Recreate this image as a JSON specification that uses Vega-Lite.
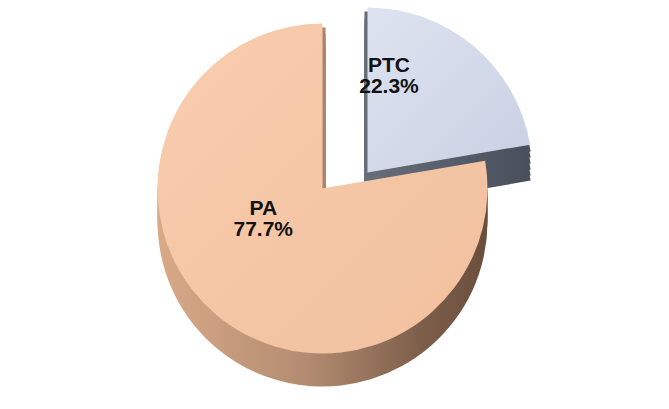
{
  "$schema": "https://vega.github.io/schema/vega-lite/v6.json",
  "width": 669,
  "height": 409,
  "autosize": {"type": "fit", "contains": "padding"},
  "background": "white",
  "view": {"stroke": null},
  "data": {"values": [
    {"cat": "PA", "value": 77.7, "label": "PA\n77.7%"},
    {"cat": "PTC", "value": 22.3, "label": "PTC\n22.3%"}
  ]},
  "transform": [
    {"stack": "value", "groupby": [], "sort": [{"field": "cat", "order": "descending"}], "as": ["v0", "v1"]}
  ],
  "encoding": {
    "theta": {"field": "v0", "type": "quantitative", "scale": {"domain": [0, 100]}},
    "theta2": {"field": "v1"}
  },
  "layer": [
    {"transform": [{"filter": "datum.cat === 'PTC'"}], "mark": {"type": "arc", "radius": 162, "xOffset": 33, "yOffset": 1, "strokeWidth": 6,
      "fill": {"gradient": "linear", "x1": 0, "y1": 0, "x2": 1, "y2": 0, "stops": [{"offset": 0, "color": "#666D79"}, {"offset": 1, "color": "#4A505B"}]},
      "stroke": {"gradient": "linear", "x1": 0, "y1": 0, "x2": 1, "y2": 0, "stops": [{"offset": 0, "color": "#666D79"}, {"offset": 1, "color": "#4A505B"}]}}},
    {"transform": [{"filter": "datum.cat === 'PTC'"}], "mark": {"type": "arc", "radius": 162, "xOffset": 33, "yOffset": -4, "strokeWidth": 6,
      "fill": {"gradient": "linear", "x1": 0, "y1": 0, "x2": 1, "y2": 0, "stops": [{"offset": 0, "color": "#666D79"}, {"offset": 1, "color": "#4A505B"}]},
      "stroke": {"gradient": "linear", "x1": 0, "y1": 0, "x2": 1, "y2": 0, "stops": [{"offset": 0, "color": "#666D79"}, {"offset": 1, "color": "#4A505B"}]}}},
    {"transform": [{"filter": "datum.cat === 'PTC'"}], "mark": {"type": "arc", "radius": 162, "xOffset": 33, "yOffset": -10, "strokeWidth": 6,
      "fill": {"gradient": "linear", "x1": 0, "y1": 0, "x2": 1, "y2": 0, "stops": [{"offset": 0, "color": "#666D79"}, {"offset": 1, "color": "#4A505B"}]},
      "stroke": {"gradient": "linear", "x1": 0, "y1": 0, "x2": 1, "y2": 0, "stops": [{"offset": 0, "color": "#666D79"}, {"offset": 1, "color": "#4A505B"}]}}},
    {"transform": [{"filter": "datum.cat === 'PTC'"}], "mark": {"type": "arc", "radius": 162, "xOffset": 33, "yOffset": -16, "strokeWidth": 6,
      "fill": {"gradient": "linear", "x1": 0, "y1": 0, "x2": 1, "y2": 0, "stops": [{"offset": 0, "color": "#666D79"}, {"offset": 1, "color": "#4A505B"}]},
      "stroke": {"gradient": "linear", "x1": 0, "y1": 0, "x2": 1, "y2": 0, "stops": [{"offset": 0, "color": "#666D79"}, {"offset": 1, "color": "#4A505B"}]}}},
    {"transform": [{"filter": "datum.cat === 'PTC'"}], "mark": {"type": "arc", "radius": 162, "xOffset": 33, "yOffset": -22, "strokeWidth": 6,
      "fill": {"gradient": "linear", "x1": 0, "y1": 0, "x2": 1, "y2": 0, "stops": [{"offset": 0, "color": "#666D79"}, {"offset": 1, "color": "#4A505B"}]},
      "stroke": {"gradient": "linear", "x1": 0, "y1": 0, "x2": 1, "y2": 0, "stops": [{"offset": 0, "color": "#666D79"}, {"offset": 1, "color": "#4A505B"}]}}},
    {"transform": [{"filter": "datum.cat === 'PTC'"}], "mark": {"type": "arc", "radius": 162, "xOffset": 33, "yOffset": -28, "strokeWidth": 6,
      "fill": {"gradient": "linear", "x1": 0, "y1": 0, "x2": 1, "y2": 0, "stops": [{"offset": 0, "color": "#666D79"}, {"offset": 1, "color": "#4A505B"}]},
      "stroke": {"gradient": "linear", "x1": 0, "y1": 0, "x2": 1, "y2": 0, "stops": [{"offset": 0, "color": "#666D79"}, {"offset": 1, "color": "#4A505B"}]}}},
    {"transform": [{"filter": "datum.cat === 'PTC'"}], "mark": {"type": "arc", "radius": 165, "xOffset": 33, "yOffset": -32,
      "fill": {"gradient": "linear", "x1": 0, "y1": 0, "x2": 1, "y2": 1, "stops": [{"offset": 0, "color": "#DDE3F0"}, {"offset": 1, "color": "#C9D0E2"}]}}},
    {"transform": [{"filter": "datum.cat === 'PA'"}], "mark": {"type": "arc", "radius": 162, "xOffset": -12, "yOffset": 17, "strokeWidth": 6,
      "fill": {"gradient": "linear", "x1": 0, "y1": 0, "x2": 1, "y2": 0, "stops": [{"offset": 0, "color": "#D8A987"}, {"offset": 0.45, "color": "#B38C71"}, {"offset": 0.8, "color": "#7E5F4B"}, {"offset": 1, "color": "#6B4F3D"}]},
      "stroke": {"gradient": "linear", "x1": 0, "y1": 0, "x2": 1, "y2": 0, "stops": [{"offset": 0, "color": "#D8A987"}, {"offset": 0.45, "color": "#B38C71"}, {"offset": 0.8, "color": "#7E5F4B"}, {"offset": 1, "color": "#6B4F3D"}]}}},
    {"transform": [{"filter": "datum.cat === 'PA'"}], "mark": {"type": "arc", "radius": 162, "xOffset": -12, "yOffset": 12, "strokeWidth": 6,
      "fill": {"gradient": "linear", "x1": 0, "y1": 0, "x2": 1, "y2": 0, "stops": [{"offset": 0, "color": "#D8A987"}, {"offset": 0.45, "color": "#B38C71"}, {"offset": 0.8, "color": "#7E5F4B"}, {"offset": 1, "color": "#6B4F3D"}]},
      "stroke": {"gradient": "linear", "x1": 0, "y1": 0, "x2": 1, "y2": 0, "stops": [{"offset": 0, "color": "#D8A987"}, {"offset": 0.45, "color": "#B38C71"}, {"offset": 0.8, "color": "#7E5F4B"}, {"offset": 1, "color": "#6B4F3D"}]}}},
    {"transform": [{"filter": "datum.cat === 'PA'"}], "mark": {"type": "arc", "radius": 162, "xOffset": -12, "yOffset": 6, "strokeWidth": 6,
      "fill": {"gradient": "linear", "x1": 0, "y1": 0, "x2": 1, "y2": 0, "stops": [{"offset": 0, "color": "#D8A987"}, {"offset": 0.45, "color": "#B38C71"}, {"offset": 0.8, "color": "#7E5F4B"}, {"offset": 1, "color": "#6B4F3D"}]},
      "stroke": {"gradient": "linear", "x1": 0, "y1": 0, "x2": 1, "y2": 0, "stops": [{"offset": 0, "color": "#D8A987"}, {"offset": 0.45, "color": "#B38C71"}, {"offset": 0.8, "color": "#7E5F4B"}, {"offset": 1, "color": "#6B4F3D"}]}}},
    {"transform": [{"filter": "datum.cat === 'PA'"}], "mark": {"type": "arc", "radius": 162, "xOffset": -12, "yOffset": 0, "strokeWidth": 6,
      "fill": {"gradient": "linear", "x1": 0, "y1": 0, "x2": 1, "y2": 0, "stops": [{"offset": 0, "color": "#D8A987"}, {"offset": 0.45, "color": "#B38C71"}, {"offset": 0.8, "color": "#7E5F4B"}, {"offset": 1, "color": "#6B4F3D"}]},
      "stroke": {"gradient": "linear", "x1": 0, "y1": 0, "x2": 1, "y2": 0, "stops": [{"offset": 0, "color": "#D8A987"}, {"offset": 0.45, "color": "#B38C71"}, {"offset": 0.8, "color": "#7E5F4B"}, {"offset": 1, "color": "#6B4F3D"}]}}},
    {"transform": [{"filter": "datum.cat === 'PA'"}], "mark": {"type": "arc", "radius": 162, "xOffset": -12, "yOffset": -6, "strokeWidth": 6,
      "fill": {"gradient": "linear", "x1": 0, "y1": 0, "x2": 1, "y2": 0, "stops": [{"offset": 0, "color": "#D8A987"}, {"offset": 0.45, "color": "#B38C71"}, {"offset": 0.8, "color": "#7E5F4B"}, {"offset": 1, "color": "#6B4F3D"}]},
      "stroke": {"gradient": "linear", "x1": 0, "y1": 0, "x2": 1, "y2": 0, "stops": [{"offset": 0, "color": "#D8A987"}, {"offset": 0.45, "color": "#B38C71"}, {"offset": 0.8, "color": "#7E5F4B"}, {"offset": 1, "color": "#6B4F3D"}]}}},
    {"transform": [{"filter": "datum.cat === 'PA'"}], "mark": {"type": "arc", "radius": 162, "xOffset": -12, "yOffset": -12, "strokeWidth": 6,
      "fill": {"gradient": "linear", "x1": 0, "y1": 0, "x2": 1, "y2": 0, "stops": [{"offset": 0, "color": "#D8A987"}, {"offset": 0.45, "color": "#B38C71"}, {"offset": 0.8, "color": "#7E5F4B"}, {"offset": 1, "color": "#6B4F3D"}]},
      "stroke": {"gradient": "linear", "x1": 0, "y1": 0, "x2": 1, "y2": 0, "stops": [{"offset": 0, "color": "#D8A987"}, {"offset": 0.45, "color": "#B38C71"}, {"offset": 0.8, "color": "#7E5F4B"}, {"offset": 1, "color": "#6B4F3D"}]}}},
    {"transform": [{"filter": "datum.cat === 'PA'"}], "mark": {"type": "arc", "radius": 165, "xOffset": -12, "yOffset": -16,
      "fill": {"gradient": "linear", "x1": 0, "y1": 0, "x2": 1, "y2": 1, "stops": [{"offset": 0, "color": "#F8CDAE"}, {"offset": 1, "color": "#F1C09F"}]}}},
    {"mark": {"type": "text", "radius": 95, "yOffset": -68, "xOffset": -10, "lineBreak": "\n", "font": "Liberation Sans", "fontSize": 21, "fontWeight": "bold", "color": "#111111", "lineHeight": 21},
      "encoding": {
        "theta": {"field": "value", "type": "quantitative", "stack": true, "scale": {"domain": [0, 100]}},
        "theta2": null,
        "order": {"field": "cat", "sort": "descending"},
        "text": {"field": "label"},
        "opacity": {"condition": {"test": "datum.cat === 'PA'", "value": 1}, "value": 0}
      }},
    {"mark": {"type": "text", "radius": 100, "yOffset": -62, "xOffset": -10, "lineBreak": "\n", "font": "Liberation Sans", "fontSize": 21, "fontWeight": "bold", "color": "#111111", "lineHeight": 21},
      "encoding": {
        "theta": {"field": "value", "type": "quantitative", "stack": true, "scale": {"domain": [0, 100]}},
        "theta2": null,
        "order": {"field": "cat", "sort": "descending"},
        "text": {"field": "label"},
        "opacity": {"condition": {"test": "datum.cat === 'PTC'", "value": 1}, "value": 0}
      }}
  ]
}
